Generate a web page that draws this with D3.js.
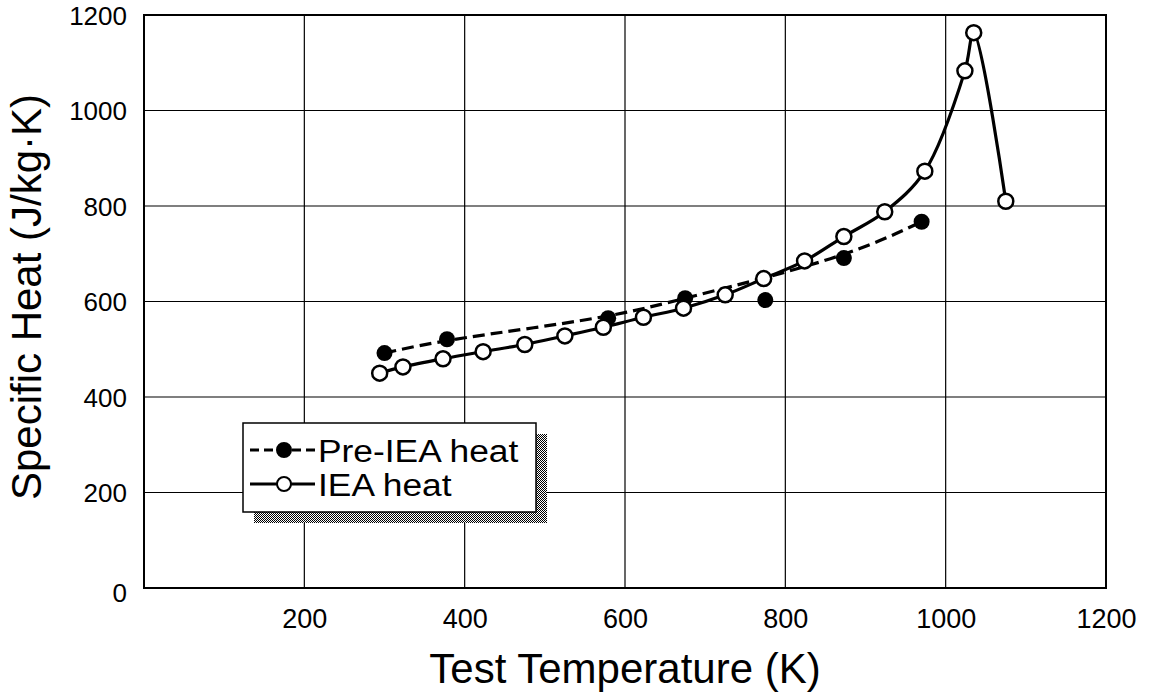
<!DOCTYPE html>
<html>
<head>
<meta charset="utf-8">
<script src="https://cdn.jsdelivr.net/npm/d3@7"></script>
<style>
  html, body { margin: 0; padding: 0; background: #fff; }
  svg { display: block; }
  text { font-family: "Liberation Sans", Arial, Helvetica, sans-serif; fill: #000; }
</style>
</head>
<body>
<svg id="chart" width="1150" height="696"></svg>
<script>
// ---- data ----
const preTemp = [300, 378, 579, 675, 775, 873, 970];
const preCp   = [492, 521, 565, 607, 603, 691, 767];
const preOnTrend = [true, true, true, true, false, true, true];

const ieaTemp = [294, 323, 373, 423, 475, 525, 573, 623, 673, 725, 773, 824, 873, 924, 974, 1024, 1035, 1075];
const ieaCp   = [450, 463, 480, 495, 510, 528, 546, 567, 586, 614, 648, 685, 736, 788, 873, 1083, 1163, 810];

const xTicks = [200, 400, 600, 800, 1000, 1200];
const yTicks = [0, 200, 400, 600, 800, 1000, 1200];
const xGrid = [200, 400, 600, 800, 1000];
const yGrid = [200, 400, 600, 800, 1000];

const xTitle = "Test Temperature (K)";
const yTitle = "Specific Heat (J/kg\u00B7K)";
const legendLabels = ["Pre-IEA heat", "IEA heat"];

// ---- layout ----
const svg = d3.select("#chart");
const L = 144, R = 1106, T = 15, B = 588;
const x = d3.scaleLinear().domain([0, 1200]).range([L, R]);
const y = d3.scaleLinear().domain([0, 1200]).range([B, T]);

// pattern for legend shadow
const defs = svg.append("defs");
const pat = defs.append("pattern").attr("id", "checker")
  .attr("width", 2).attr("height", 2).attr("patternUnits", "userSpaceOnUse");
pat.append("rect").attr("width", 2).attr("height", 2).attr("fill", "#fff");
pat.append("rect").attr("width", 1).attr("height", 1).attr("fill", "#000");
pat.append("rect").attr("x", 1).attr("y", 1).attr("width", 1).attr("height", 1).attr("fill", "#000");

// gridlines
svg.append("g").selectAll("line").data(xGrid).join("line")
  .attr("x1", d => x(d)).attr("x2", d => x(d))
  .attr("y1", T).attr("y2", B)
  .attr("stroke", "#000").attr("stroke-width", 1.2);
svg.append("g").selectAll("line").data(yGrid).join("line")
  .attr("y1", d => y(d)).attr("y2", d => y(d))
  .attr("x1", L).attr("x2", R)
  .attr("stroke", "#000").attr("stroke-width", 1.2);

// frame
svg.append("rect").attr("x", L).attr("y", T).attr("width", R - L).attr("height", B - T)
  .attr("fill", "none").attr("stroke", "#000").attr("stroke-width", 2);

// axes tick labels via d3 axes (no tick lines)
const xAxis = d3.axisBottom(x).tickValues(xTicks).tickSize(0).tickPadding(0).tickFormat(d3.format("d"));
const gx = svg.append("g").attr("transform", `translate(0,${B})`).call(xAxis);
gx.select(".domain").remove();
gx.selectAll("text").attr("y", 40).attr("dy", null)
  .style("font-size", "27px").style("font-family", "Liberation Sans, Arial, sans-serif").attr("fill", "#000");

const yAxis = d3.axisLeft(y).tickValues(yTicks).tickSize(0).tickPadding(0).tickFormat(d3.format("d"));
const gy = svg.append("g").attr("transform", `translate(127,0)`).call(yAxis);
gy.select(".domain").remove();
gy.selectAll("text").attr("x", 0).attr("dy", "0.36em")
  .style("font-size", "26px").style("font-family", "Liberation Sans, Arial, sans-serif").attr("fill", "#000");
gy.selectAll(".tick").filter(d => d === 0).select("text").attr("dy", "0.5em");

// axis titles
svg.append("text").attr("x", 625).attr("y", 683).attr("text-anchor", "middle")
  .style("font-size", "42px").text(xTitle);
svg.append("text").attr("transform", `translate(41,${297}) rotate(-90)`).attr("text-anchor", "middle")
  .style("font-size", "42px").text(yTitle);

// data lines
const pre = preTemp.map((t, i) => ({ t, c: preCp[i], on: preOnTrend[i] }));
const iea = ieaTemp.map((t, i) => ({ t, c: ieaCp[i] }));

svg.append("path").datum(pre.filter(d => d.on))
  .attr("d", d3.line().x(d => x(d.t)).y(d => y(d.c)).curve(d3.curveBasis))
  .attr("fill", "none").attr("stroke", "#000").attr("stroke-width", 3.2)
  .attr("stroke-dasharray", "12,6");

svg.append("path").datum(iea)
  .attr("d", d3.line().x(d => x(d.t)).y(d => y(d.c)).curve(d3.curveCatmullRom.alpha(0.5)))
  .attr("fill", "none").attr("stroke", "#000").attr("stroke-width", 3.2);

svg.append("g").selectAll("circle").data(pre).join("circle")
  .attr("cx", d => x(d.t)).attr("cy", d => y(d.c)).attr("r", 8)
  .attr("fill", "#000");

svg.append("g").selectAll("circle").data(iea).join("circle")
  .attr("cx", d => x(d.t)).attr("cy", d => y(d.c)).attr("r", 7.5)
  .attr("fill", "#fff").attr("stroke", "#000").attr("stroke-width", 2.5);

// legend
const lg = svg.append("g");
const bx = 243, by = 423, bw = 293, bh = 89, sh = 11;
lg.append("rect").attr("x", bx + sh).attr("y", by + sh).attr("width", bw).attr("height", bh)
  .attr("fill", "url(#checker)");
lg.append("rect").attr("x", bx).attr("y", by).attr("width", bw).attr("height", bh)
  .attr("fill", "#fff").attr("stroke", "#000").attr("stroke-width", 1.5);

const rows = [
  { label: legendLabels[0], yy: 450, dash: "9,5", fill: "#000" },
  { label: legendLabels[1], yy: 484, dash: null, fill: "#fff" }
];
rows.forEach(r => {
  lg.append("line").attr("x1", 250).attr("x2", 315).attr("y1", r.yy).attr("y2", r.yy)
    .attr("stroke", "#000").attr("stroke-width", 3)
    .attr("stroke-dasharray", r.dash);
  lg.append("circle").attr("cx", 284).attr("cy", r.yy).attr("r", 7)
    .attr("fill", r.fill).attr("stroke", "#000").attr("stroke-width", 2);
  lg.append("text").attr("transform", `translate(318,${r.yy + 12}) scale(1.14,1)`)
    .style("font-size", "31px").text(r.label);
});
</script>
</body>
</html>
